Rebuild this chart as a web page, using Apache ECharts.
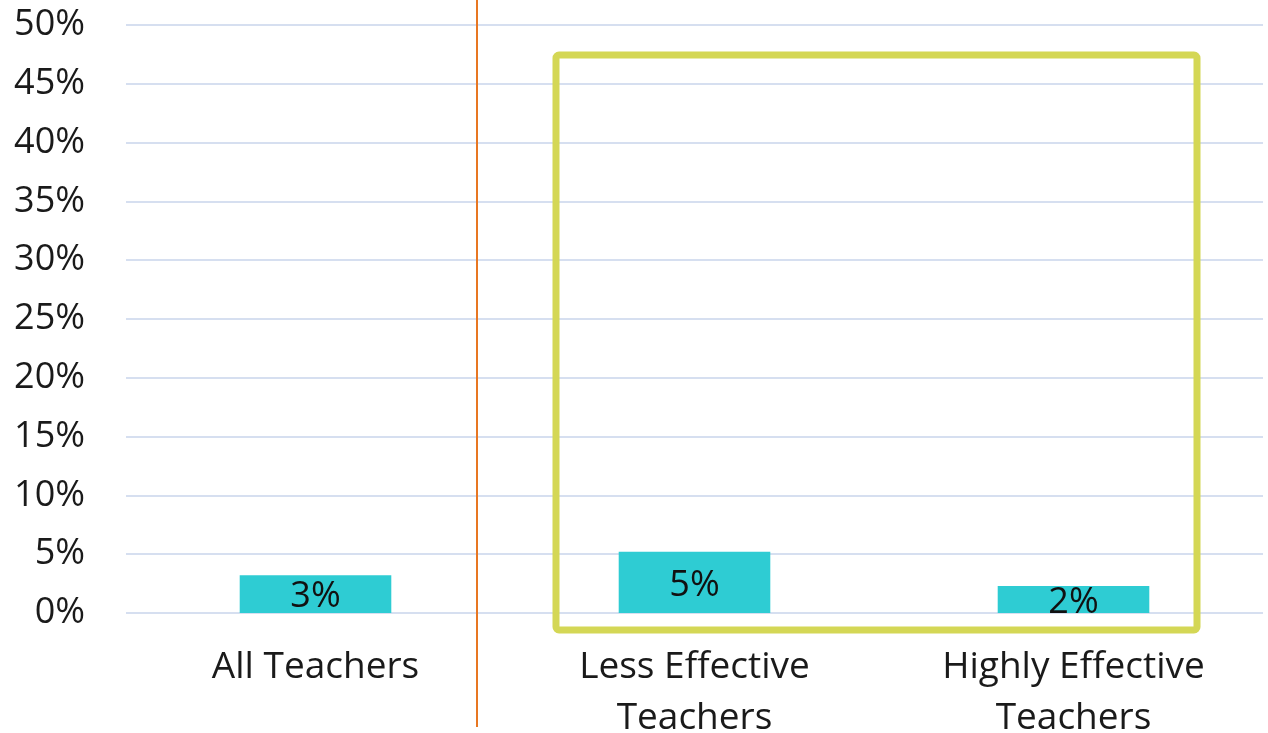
<!DOCTYPE html>
<html><head><meta charset="utf-8">
<script src="https://cdn.jsdelivr.net/npm/echarts@6/dist/echarts.min.js"></script>
<style>html,body{margin:0;padding:0;background:#fff}#c{width:1268px;height:733px}</style>
</head><body><div id="c"></div>
<script>
const categories = ["All Teachers", "Less Effective\nTeachers", "Highly Effective\nTeachers"];
const values = [3.2, 5.2, 2.3];
const valueLabels = ["3%", "5%", "2%"];
const yTicks = [0, 5, 10, 15, 20, 25, 30, 35, 40, 45, 50];

const chart = echarts.init(document.getElementById('c'), null, {renderer: 'canvas'});
const font = '"Open Sans", "Noto Sans", sans-serif';
chart.setOption({
  animation: false,
  grid: {left: 126, right: 5, top: 25, bottom: 120, outerBoundsMode: 'none', containLabel: false},
  xAxis: {
    type: 'category', data: categories,
    axisLine: {show: false}, axisTick: {show: false},
    axisLabel: {color: '#1a1a1a', fontSize: 37, fontFamily: font, lineHeight: 51, margin: 29, interval: 0}
  },
  yAxis: {
    type: 'value', min: 0, max: 50, interval: 5,
    axisLine: {show: false}, axisTick: {show: false},
    axisLabel: {color: '#1a1a1a', fontSize: 36, fontFamily: font, margin: 41, formatter: v => yTicks.includes(v) ? v + '%' : ''},
    splitLine: {lineStyle: {color: '#D6DFF0', width: 2}}
  },
  series: [{
    type: 'bar', data: values, barWidth: '40%',
    itemStyle: {color: '#2ECCD3'},
    label: {show: true, position: 'inside', offset: [0, 3], color: '#111', fontSize: 36, fontFamily: font,
      formatter: p => valueLabels[p.dataIndex]}
  }],
  graphic: [
    {type: 'line', shape: {x1: 477, y1: 0, x2: 477, y2: 727}, style: {stroke: '#E87722', lineWidth: 2}, z: 10},
    {type: 'rect', shape: {x: 556, y: 55, width: 641, height: 575, r: 3}, style: {fill: 'none', stroke: '#D4D755', lineWidth: 7}, z: 10}
  ]
});
</script></body></html>
